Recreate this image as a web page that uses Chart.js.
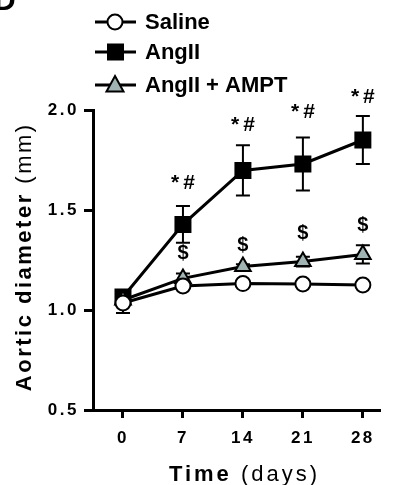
<!DOCTYPE html>
<html><head><meta charset="utf-8">
<script src="https://cdn.jsdelivr.net/npm/chart.js@4"></script>
<style>html,body{margin:0;padding:0;background:#fff;overflow:hidden}#wrap{position:relative;width:394px;height:485px}</style>
</head><body><div id="wrap"><canvas id="c" width="394" height="485"></canvas></div>
<script>
const days = [0, 7, 14, 21, 28];
const xTicks = [0, 7, 14, 21, 28];
const yTicks = [0.5, 1.0, 1.5, 2.0];
const seriesNames = ['Saline', 'AngII', 'AngII + AMPT'];
const saline = [1.035, 1.12, 1.132, 1.13, 1.125];
const salineErr = [0.05, 0.012, 0.01, 0.01, 0.01];
const angII = [1.065, 1.428, 1.698, 1.73, 1.85];
const angIIErr = [0.02, 0.092, 0.126, 0.132, 0.12];
const ampt = [1.05, 1.158, 1.217, 1.242, 1.278];
const amptErr = [0.02, 0.024, 0.012, 0.024, 0.046];
const sigDays = [7, 14, 21, 28];
const angIISig = ['*#', '*#', '*#', '*#'];
const angIISigY = [1.635, 1.925, 1.99, 2.065];
const amptSig = ['$', '$', '$', '$'];
const amptSigY = [1.285, 1.325, 1.385, 1.425];

const FONT = '"Liberation Sans", Arial, Helvetica, sans-serif';
const toXY = arr => days.map((d, i) => ({x: d, y: arr[i]}));
const errs = [salineErr, angIIErr, amptErr];

const styles = [
  {pointStyle: 'circle', pointRadius: 7.5, fill: '#ffffff'},
  {pointStyle: 'rect', pointRadius: 10.6, fill: '#000000'},
  {pointStyle: 'triangle', pointRadius: 9, fill: '#a0b4b4'}
];

const errorBars = {
  id: 'errorBars',
  beforeDatasetsDraw(chart) {
    const ctx = chart.ctx, ys = chart.scales.y, xs = chart.scales.x;
    ctx.save();
    ctx.strokeStyle = '#000'; ctx.lineWidth = 2;
    chart.data.datasets.forEach((ds, di) => {
      ds.data.forEach((p, i) => {
        const e = errs[di][i];
        const x = xs.getPixelForValue(p.x);
        const y1 = ys.getPixelForValue(p.y + e), y2 = ys.getPixelForValue(p.y - e);
        ctx.beginPath();
        ctx.moveTo(x, y1); ctx.lineTo(x, y2);
        ctx.moveTo(x - 7, y1); ctx.lineTo(x + 7, y1);
        ctx.moveTo(x - 7, y2); ctx.lineTo(x + 7, y2);
        ctx.stroke();
      });
    });
    ctx.restore();
  }
};

function spacedText(ctx, parts, spacing) {
  let w = 0;
  parts.forEach(p => { ctx.font = p.font; ctx.letterSpacing = spacing + 'px'; w += ctx.measureText(p.text).width; });
  return w - spacing;
}

const decor = {
  id: 'decor',
  beforeLayout(chart) { chart.ctx.letterSpacing = '2.5px'; },
  beforeDraw(chart) { chart.ctx.letterSpacing = '2.5px'; },
  afterDraw(chart) {
    const ctx = chart.ctx, ys = chart.scales.y, xs = chart.scales.x;
    ctx.save();
    ctx.fillStyle = '#000';
    ctx.textBaseline = 'middle';
    ctx.textAlign = 'left';
    const drawCentered = (txt, x, y, font, sp) => {
      ctx.font = font; ctx.letterSpacing = sp + 'px';
      const w = ctx.measureText(txt).width - sp;
      ctx.fillText(txt, x - w / 2, y);
    };
    sigDays.forEach((d, i) => {
      const x = xs.getPixelForValue(d);
      drawCentered(angIISig[i], x, ys.getPixelForValue(angIISigY[i]), 'bold 21px ' + FONT, 4);
      drawCentered(amptSig[i], x, ys.getPixelForValue(amptSigY[i]), 'bold 20px ' + FONT, 0);
    });
    const rows = [22, 52, 85];
    rows.forEach((ry, i) => {
      ctx.strokeStyle = '#000'; ctx.lineWidth = 3;
      ctx.beginPath(); ctx.moveTo(95, ry); ctx.lineTo(136, ry); ctx.stroke();
      const st = styles[i];
      ctx.fillStyle = st.fill; ctx.lineWidth = 2;
      ctx.beginPath();
      if (i === 0) { ctx.arc(115, ry, 7.5, 0, Math.PI * 2); }
      else if (i === 1) { ctx.rect(108, ry - 7.5, 15, 15); }
      else { ctx.moveTo(115, ry - 9); ctx.lineTo(123.5, ry + 6.5); ctx.lineTo(106.5, ry + 6.5); ctx.closePath(); }
      ctx.fill(); ctx.stroke();
      ctx.fillStyle = '#000';
      ctx.font = 'bold 22px ' + FONT; ctx.letterSpacing = '0px';
      ctx.fillText(seriesNames[i], 145, ry + 1);
    });
    const xParts = [{text: 'Time ', font: 'bold 22px ' + FONT}, {text: '(days)', font: '22px ' + FONT}];
    let w = spacedText(ctx, xParts, 3);
    let cx = 243 - w / 2;
    xParts.forEach(p => { ctx.font = p.font; ctx.letterSpacing = '3px'; ctx.fillText(p.text, cx, 475); cx += ctx.measureText(p.text).width; });
    ctx.translate(25, 258); ctx.rotate(-Math.PI / 2);
    const yParts = [{text: 'Aortic diameter ', font: 'bold 22px ' + FONT}, {text: '(mm)', font: '22px ' + FONT}];
    w = spacedText(ctx, yParts, 2.5);
    cx = -w / 2;
    yParts.forEach(p => { ctx.font = p.font; ctx.letterSpacing = '2.5px'; ctx.fillText(p.text, cx, 0); cx += ctx.measureText(p.text).width; });
    ctx.restore();
    ctx.save();
    ctx.fillStyle = '#000'; ctx.font = 'bold 30px ' + FONT; ctx.letterSpacing = '0px';
    ctx.textBaseline = 'alphabetic';
    ctx.fillText('D', -6, 10);
    ctx.restore();
  }
};

const mkDs = (label, arr, i, order) => ({
  label, data: toXY(arr), order,
  borderColor: '#000', borderWidth: 3,
  pointStyle: styles[i].pointStyle, pointRadius: styles[i].pointRadius,
  pointHoverRadius: styles[i].pointRadius,
  pointBackgroundColor: styles[i].fill, pointBorderColor: '#000', pointBorderWidth: 2,
  tension: 0, fill: false
});

new Chart(document.getElementById('c'), {
  type: 'line',
  data: {datasets: [mkDs(seriesNames[0], saline, 0, 1), mkDs(seriesNames[1], angII, 1, 3), mkDs(seriesNames[2], ampt, 2, 2)]},
  options: {
    responsive: false, animation: false, devicePixelRatio: 1,
    layout: {padding: {left: 0, top: 110, right: 14, bottom: 0}},
    plugins: {legend: {display: false}, tooltip: {enabled: false}},
    scales: {
      x: {
        type: 'linear', min: -3.5, max: 30,
        afterBuildTicks: s => { s.ticks = xTicks.map(v => ({value: v})); },
        afterFit: s => { s.height = 75; },
        grid: {drawOnChartArea: false, drawTicks: true, tickLength: 8, tickWidth: 3, tickColor: '#000'},
        border: {display: true, color: '#000', width: 3},
        ticks: {color: '#000', font: {family: FONT, size: 17, weight: 'bold'}, padding: 10, maxRotation: 0}
      },
      y: {
        min: 0.5, max: 2.0,
        afterBuildTicks: s => { s.ticks = yTicks.map(v => ({value: v})); },
        afterFit: s => { s.width = 93; },
        grid: {drawOnChartArea: false, drawTicks: true, tickLength: 9, tickWidth: 3, tickColor: '#000'},
        border: {display: true, color: '#000', width: 3},
        ticks: {color: '#000', font: {family: FONT, size: 17, weight: 'bold'}, padding: 5, callback: v => v.toFixed(1)}
      }
    }
  },
  plugins: [errorBars, decor]
});
</script></body></html>
